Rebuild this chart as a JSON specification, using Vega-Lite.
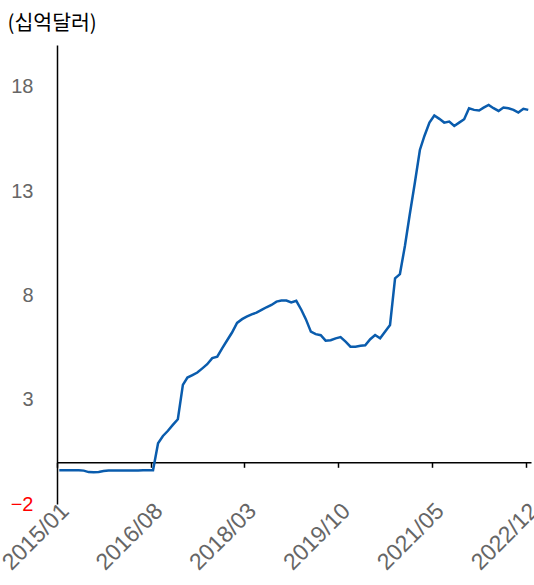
{
  "$schema": "https://vega.github.io/schema/vega-lite/v6.json",
  "autosize": {"type": "none"},
  "padding": {"left": 57, "top": 45, "right": 3, "bottom": 81},
  "width": 474,
  "height": 459,
  "background": "white",
  "config": {"view": {"stroke": null}},
  "data": {"values": [
    {"date":"2015-01-15","v":-0.38},{"date":"2015-02-15","v":-0.38},{"date":"2015-03-15","v":-0.38},{"date":"2015-04-15","v":-0.38},
    {"date":"2015-05-15","v":-0.38},{"date":"2015-06-15","v":-0.40},{"date":"2015-07-15","v":-0.47},{"date":"2015-08-15","v":-0.48},
    {"date":"2015-09-15","v":-0.47},{"date":"2015-10-15","v":-0.42},{"date":"2015-11-15","v":-0.40},{"date":"2015-12-15","v":-0.40},
    {"date":"2016-01-15","v":-0.40},{"date":"2016-02-15","v":-0.40},{"date":"2016-03-15","v":-0.39},{"date":"2016-04-15","v":-0.40},
    {"date":"2016-05-15","v":-0.39},{"date":"2016-06-15","v":-0.38},{"date":"2016-07-15","v":-0.38},{"date":"2016-08-15","v":-0.38},
    {"date":"2016-09-15","v":0.91},{"date":"2016-10-15","v":1.26},{"date":"2016-11-15","v":1.51},{"date":"2016-12-15","v":1.79},
    {"date":"2017-01-15","v":2.06},{"date":"2017-02-15","v":3.71},{"date":"2017-03-15","v":4.06},{"date":"2017-04-15","v":4.18},
    {"date":"2017-05-15","v":4.30},{"date":"2017-06-15","v":4.50},{"date":"2017-07-15","v":4.70},{"date":"2017-08-15","v":4.99},
    {"date":"2017-09-15","v":5.06},{"date":"2017-10-15","v":5.46},{"date":"2017-11-15","v":5.85},{"date":"2017-12-15","v":6.22},
    {"date":"2018-01-15","v":6.68},{"date":"2018-02-15","v":6.86},{"date":"2018-03-15","v":6.98},{"date":"2018-04-15","v":7.09},
    {"date":"2018-05-15","v":7.17},{"date":"2018-06-15","v":7.30},{"date":"2018-07-15","v":7.43},{"date":"2018-08-15","v":7.54},
    {"date":"2018-09-15","v":7.70},{"date":"2018-10-15","v":7.75},{"date":"2018-11-15","v":7.75},{"date":"2018-12-15","v":7.66},
    {"date":"2019-01-15","v":7.74},{"date":"2019-02-15","v":7.31},{"date":"2019-03-15","v":6.86},{"date":"2019-04-15","v":6.26},
    {"date":"2019-05-15","v":6.14},{"date":"2019-06-15","v":6.09},{"date":"2019-07-15","v":5.83},{"date":"2019-08-15","v":5.85},
    {"date":"2019-09-15","v":5.94},{"date":"2019-10-15","v":6.00},{"date":"2019-11-15","v":5.78},{"date":"2019-12-15","v":5.54},
    {"date":"2020-01-15","v":5.54},{"date":"2020-02-15","v":5.58},{"date":"2020-03-15","v":5.61},{"date":"2020-04-15","v":5.90},
    {"date":"2020-05-15","v":6.10},{"date":"2020-06-15","v":5.94},{"date":"2020-07-15","v":6.26},{"date":"2020-08-15","v":6.58},
    {"date":"2020-09-15","v":8.82},{"date":"2020-10-15","v":9.02},{"date":"2020-11-15","v":10.38},{"date":"2020-12-15","v":11.90},
    {"date":"2021-01-15","v":13.40},{"date":"2021-02-15","v":14.97},{"date":"2021-03-15","v":15.64},{"date":"2021-04-15","v":16.28},
    {"date":"2021-05-15","v":16.62},{"date":"2021-06-15","v":16.46},{"date":"2021-07-15","v":16.28},{"date":"2021-08-15","v":16.33},
    {"date":"2021-09-15","v":16.12},{"date":"2021-10-15","v":16.28},{"date":"2021-11-15","v":16.44},{"date":"2021-12-15","v":16.97},
    {"date":"2022-01-15","v":16.89},{"date":"2022-02-15","v":16.86},{"date":"2022-03-15","v":17.00},{"date":"2022-04-15","v":17.13},
    {"date":"2022-05-15","v":16.97},{"date":"2022-06-15","v":16.84},{"date":"2022-07-15","v":17.00},{"date":"2022-08-15","v":16.97},
    {"date":"2022-09-15","v":16.89},{"date":"2022-10-15","v":16.76},{"date":"2022-11-15","v":16.94},{"date":"2022-12-15","v":16.89}
  ]},
  "mark": {"type": "line", "color": "#0a5cad", "strokeWidth": 2.5, "clip": true},
  "encoding": {
    "x": {
      "field": "date", "type": "temporal",
      "scale": {"type": "utc", "domain": [{"year": 2015, "month": 1, "date": 1, "utc": true}, {"year": 2023, "month": 1, "date": 1, "utc": true}]},
      "axis": {
        "title": null,
        "values": [
          {"year": 2015, "month": 1, "date": 1, "utc": true},
          {"year": 2016, "month": 8, "date": 1, "utc": true},
          {"year": 2018, "month": 3, "date": 1, "utc": true},
          {"year": 2019, "month": 10, "date": 1, "utc": true},
          {"year": 2021, "month": 5, "date": 1, "utc": true},
          {"year": 2022, "month": 12, "date": 1, "utc": true}
        ],
        "labelExpr": "utcFormat(datum.value, '%Y/%m')",
        "offset": -41.7,
        "grid": false,
        "domainColor": "black",
        "domainWidth": 1.5,
        "tickColor": "black",
        "tickWidth": 1.5,
        "tickSize": 5,
        "labelAngle": -45,
        "labelAlign": "right",
        "labelBaseline": "top",
        "labelPadding": 32,
        "labelDx": 3,
        "labelFont": "Liberation Sans",
        "labelFontSize": 23,
        "labelColor": "#666666",
        "labelOverlap": false,
        "labelFlush": false,
        "labelBound": false
      }
    },
    "y": {
      "field": "v", "type": "quantitative",
      "scale": {"domain": [-2, 20], "nice": false, "zero": false},
      "axis": {
        "title": "(십억달러)",
        "titleAngle": 0,
        "titleX": -50,
        "titleY": -22,
        "titleAlign": "left",
        "titleBaseline": "middle",
        "titleFont": "Noto Sans CJK KR",
        "titleFontSize": 20.5,
        "titleFontWeight": "normal",
        "titleColor": "black",
        "values": [-2, 3, 8, 13, 18],
        "grid": false,
        "ticks": false,
        "domainColor": "black",
        "domainWidth": 1.5,
        "labelPadding": 24,
        "labelFont": "Liberation Sans",
        "labelFontSize": 20,
        "labelColor": {"condition": {"test": "datum.value < 0", "value": "#ff0000"}, "value": "#666666"},
        "labelFlush": false,
        "labelBound": false
      }
    }
  }
}
